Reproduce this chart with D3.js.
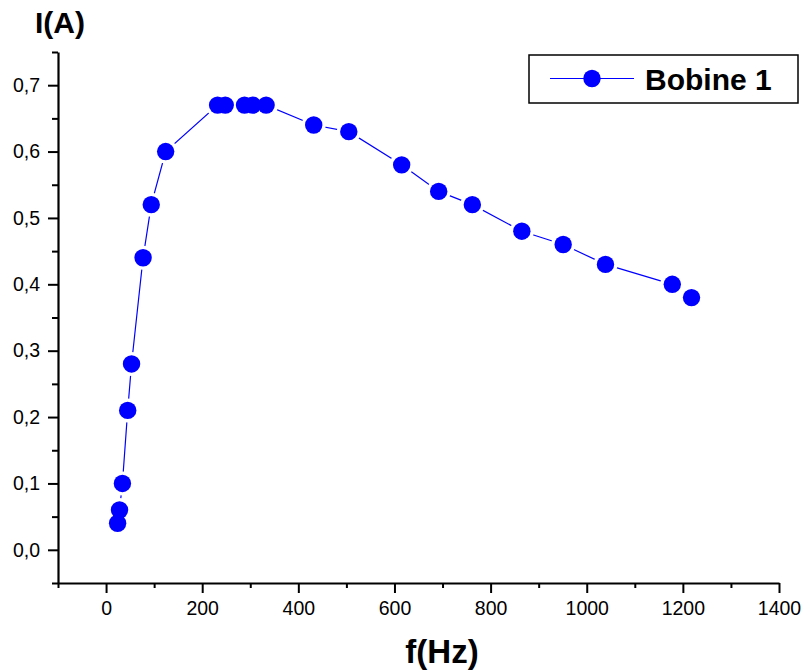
<!DOCTYPE html>
<meta charset="utf-8">
<style>
body { margin: 0; background: #fff; }
text { font-family: Arial, "Liberation Sans", sans-serif; }
</style>
<body>
<script src="https://d3js.org/d3.v7.min.js"></script>
<script>
// f (Hz) and I (A)
var freq = [24, 28, 34, 45, 53, 77, 94, 124, 232, 248, 288, 305, 333, 432, 505, 615, 692, 762, 865, 951, 1039, 1178, 1218];
var current = [0.04, 0.06, 0.10, 0.21, 0.28, 0.44, 0.52, 0.60, 0.67, 0.67, 0.67, 0.67, 0.67, 0.64, 0.63, 0.58, 0.54, 0.52, 0.48, 0.46, 0.43, 0.40, 0.38];
var xMajor = [0, 200, 400, 600, 800, 1000, 1200, 1400];
var xMinor = [-100, 100, 300, 500, 700, 900, 1100, 1300];
var yMajor = [0.0, 0.1, 0.2, 0.3, 0.4, 0.5, 0.6, 0.7];
var yMinor = [-0.05, 0.05, 0.15, 0.25, 0.35, 0.45, 0.55, 0.65, 0.75];
var seriesName = "Bobine 1";

var width = 804, height = 671;
var svg = d3.select("body").append("svg")
    .attr("width", width)
    .attr("height", height);

var x = d3.scaleLinear().domain([-100, 1400]).range([58, 779]);
var y = d3.scaleLinear().domain([-0.05, 0.75]).range([583, 52]);
var fmt = function(d) { return d3.format(".1f")(d).replace(".", ","); };

// x axis
var xg = svg.append("g").attr("transform", "translate(0," + y(-0.05) + ")");
xg.call(d3.axisBottom(x).tickValues(xMajor).tickSize(10).tickSizeOuter(0).tickPadding(8).tickFormat(d3.format("d")));
xg.append("g").call(d3.axisBottom(x).tickValues(xMinor).tickSize(5).tickSizeOuter(0).tickFormat(""))
  .select(".domain").remove();

// y axis
var yg = svg.append("g").attr("transform", "translate(" + x(-100) + ",0)");
yg.call(d3.axisLeft(y).tickValues(yMajor).tickSize(10).tickSizeOuter(0).tickPadding(8).tickFormat(fmt));
yg.append("g").call(d3.axisLeft(y).tickValues(yMinor).tickSize(6).tickSizeOuter(0).tickFormat(""))
  .select(".domain").remove();

svg.selectAll(".domain").attr("stroke", "#000").attr("stroke-width", 2.2);
svg.selectAll(".tick line").attr("stroke", "#000").attr("stroke-width", 2);
svg.selectAll(".tick text").attr("font-size", "19.5px").attr("fill", "#000")
  .style("font-family", "Arial, 'Liberation Sans', sans-serif");

// axis titles
svg.append("text").attr("x", 35).attr("y", 33)
    .attr("font-size", "30px").attr("font-weight", "bold").text("I(A)");
svg.append("text").attr("x", 442).attr("y", 663).attr("text-anchor", "middle")
    .attr("font-size", "33px").attr("font-weight", "bold").text("f(Hz)");

// series
var pts = freq.map(function(f, i) { return [f, current[i]]; });
var line = d3.line().x(function(d) { return x(d[0]); }).y(function(d) { return y(d[1]); });
svg.append("path").datum(pts)
    .attr("d", line)
    .attr("fill", "none")
    .attr("stroke", "#0000ff")
    .attr("stroke-width", 1.2);

// white halos give the line gaps round the markers
svg.append("g").selectAll("circle").data(pts).enter().append("circle")
    .attr("cx", function(d) { return x(d[0]); })
    .attr("cy", function(d) { return y(d[1]); })
    .attr("r", 12)
    .attr("fill", "#fff");
svg.append("g").selectAll("circle").data(pts).enter().append("circle")
    .attr("cx", function(d) { return x(d[0]); })
    .attr("cy", function(d) { return y(d[1]); })
    .attr("r", 8.7)
    .attr("fill", "#0000ff");

// legend
var lg = svg.append("g");
lg.append("rect").attr("x", 529).attr("y", 55).attr("width", 269).attr("height", 48)
    .attr("fill", "#fff").attr("stroke", "#000").attr("stroke-width", 1.5);
lg.append("line").attr("x1", 550).attr("x2", 634).attr("y1", 78.5).attr("y2", 78.5)
    .attr("stroke", "#0000ff").attr("stroke-width", 1.2);
lg.append("circle").attr("cx", 592).attr("cy", 78.5).attr("r", 8.7).attr("fill", "#0000ff");
lg.append("text").attr("x", 645).attr("y", 89.5)
    .attr("font-size", "30px").attr("font-weight", "bold").text(seriesName);
</script>
</body>
